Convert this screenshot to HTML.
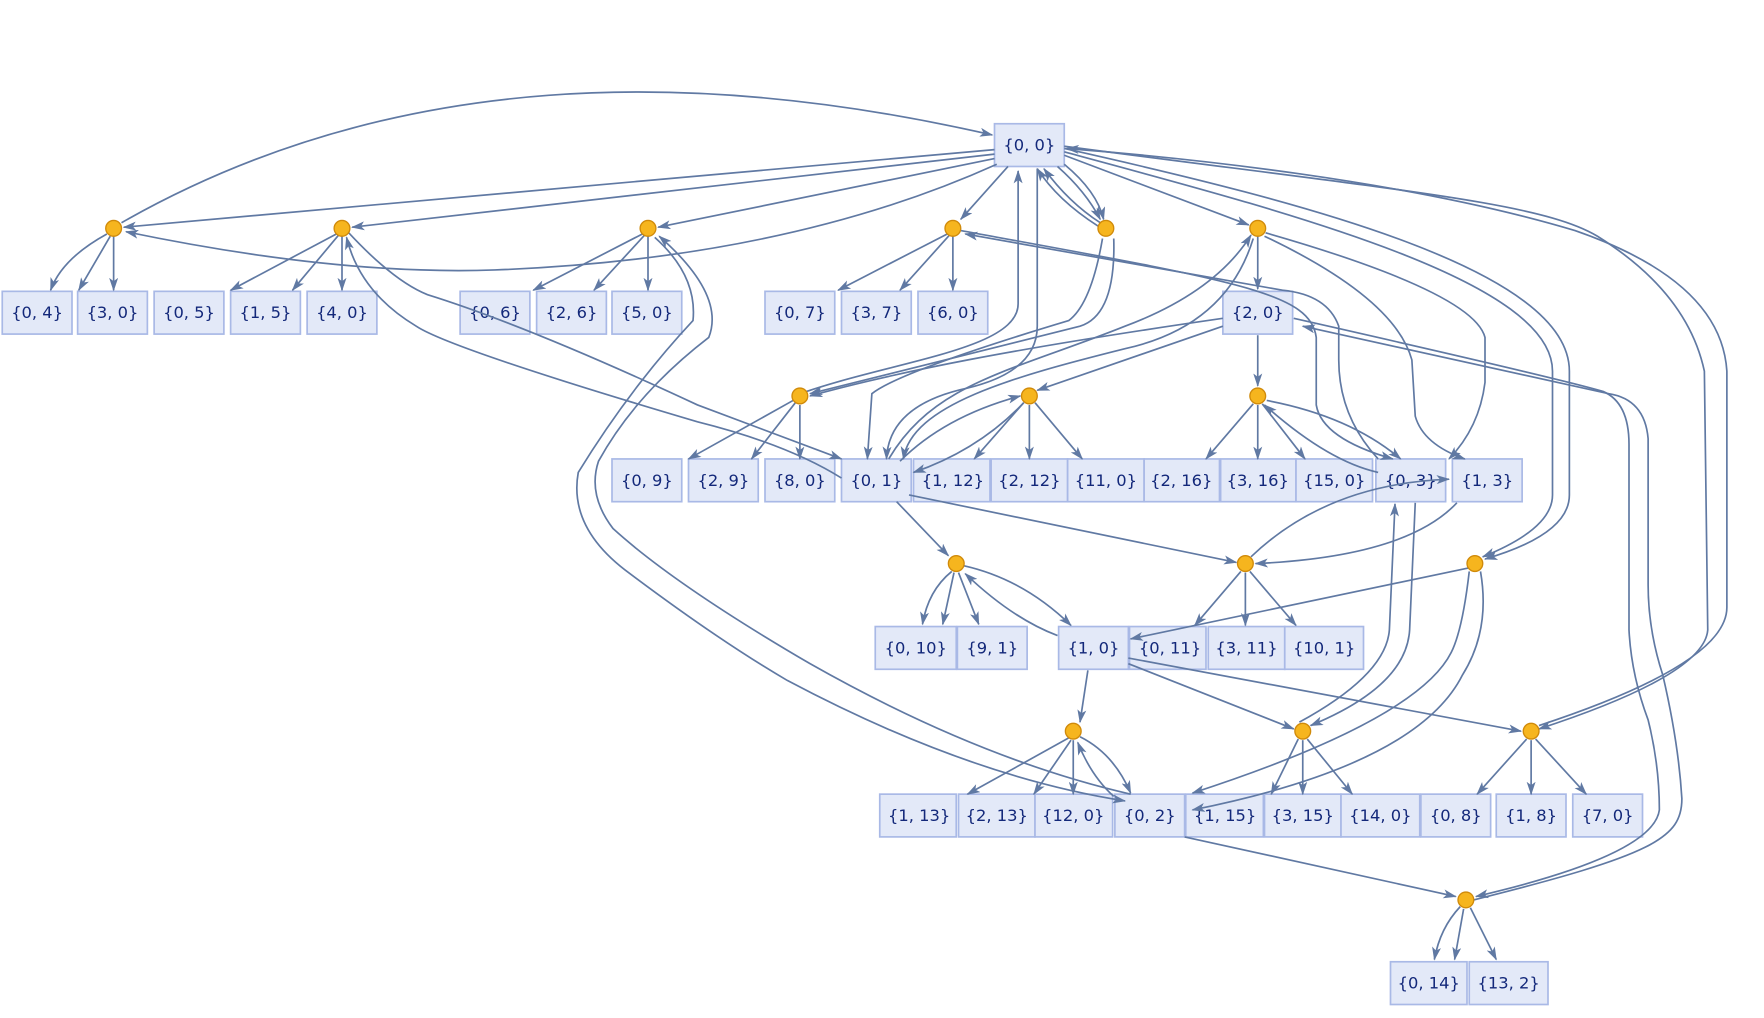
<!DOCTYPE html>
<html><head><meta charset="utf-8"><style>
html,body{margin:0;padding:0;background:#fff;}
svg{display:block;}
text{font-family:"DejaVu Sans","Liberation Sans",sans-serif;font-size:14.5px;fill:#13287a;text-anchor:middle;dominant-baseline:central;}
.e{fill:none;stroke:#6079a3;stroke-width:1.5;marker-end:url(#a);}
.b{fill:#e3e9f8;stroke:#a9b9e6;stroke-width:1.5;}
.d{fill:#f6b51e;stroke:#d08a0a;stroke-width:1.2;}
</style></head><body>
<svg width="1764" height="1018" viewBox="0 0 1568 905" preserveAspectRatio="none">
<defs><marker id="a" viewBox="0 0 12 8" refX="11" refY="4" markerWidth="12" markerHeight="8" markerUnits="userSpaceOnUse" orient="auto"><path d="M0,0 L12,4 L0,8 L3,4 z" fill="#6079a3"/></marker></defs>
<g id="boxes">
<rect class="b" x="884" y="110" width="62" height="38"/><text x="915" y="129">{0, 0}</text>
<rect class="b" x="2" y="259" width="62" height="38"/><text x="33" y="278">{0, 4}</text>
<rect class="b" x="69" y="259" width="62" height="38"/><text x="100" y="278">{3, 0}</text>
<rect class="b" x="137" y="259" width="62" height="38"/><text x="168" y="278">{0, 5}</text>
<rect class="b" x="205" y="259" width="62" height="38"/><text x="236" y="278">{1, 5}</text>
<rect class="b" x="273" y="259" width="62" height="38"/><text x="304" y="278">{4, 0}</text>
<rect class="b" x="409" y="259" width="62" height="38"/><text x="440" y="278">{0, 6}</text>
<rect class="b" x="477" y="259" width="62" height="38"/><text x="508" y="278">{2, 6}</text>
<rect class="b" x="544" y="259" width="62" height="38"/><text x="575" y="278">{5, 0}</text>
<rect class="b" x="680" y="259" width="62" height="38"/><text x="711" y="278">{0, 7}</text>
<rect class="b" x="748" y="259" width="62" height="38"/><text x="779" y="278">{3, 7}</text>
<rect class="b" x="816" y="259" width="62" height="38"/><text x="847" y="278">{6, 0}</text>
<rect class="b" x="1087" y="259" width="62" height="38"/><text x="1118" y="278">{2, 0}</text>
<rect class="b" x="544" y="408" width="62" height="38"/><text x="575" y="427">{0, 9}</text>
<rect class="b" x="612" y="408" width="62" height="38"/><text x="643" y="427">{2, 9}</text>
<rect class="b" x="680" y="408" width="62" height="38"/><text x="711" y="427">{8, 0}</text>
<rect class="b" x="748" y="408" width="62" height="38"/><text x="779" y="427">{0, 1}</text>
<rect class="b" x="812" y="408" width="68" height="38"/><text x="847" y="427">{1, 12}</text>
<rect class="b" x="881" y="408" width="68" height="38"/><text x="915" y="427">{2, 12}</text>
<rect class="b" x="949" y="408" width="68" height="38"/><text x="983" y="427">{11, 0}</text>
<rect class="b" x="1017" y="408" width="67" height="38"/><text x="1050" y="427">{2, 16}</text>
<rect class="b" x="1085" y="408" width="67" height="38"/><text x="1118" y="427">{3, 16}</text>
<rect class="b" x="1152" y="408" width="68" height="38"/><text x="1186" y="427">{15, 0}</text>
<rect class="b" x="1223" y="408" width="62" height="38"/><text x="1254" y="427">{0, 3}</text>
<rect class="b" x="1291" y="408" width="62" height="38"/><text x="1322" y="427">{1, 3}</text>
<rect class="b" x="778" y="557" width="72" height="38"/><text x="814" y="576">{0, 10}</text>
<rect class="b" x="851" y="557" width="62" height="38"/><text x="882" y="576">{9, 1}</text>
<rect class="b" x="941" y="557" width="62" height="38"/><text x="972" y="576">{1, 0}</text>
<rect class="b" x="1004" y="557" width="68" height="38"/><text x="1040" y="576">{0, 11}</text>
<rect class="b" x="1074" y="557" width="68" height="38"/><text x="1108" y="576">{3, 11}</text>
<rect class="b" x="1142" y="557" width="70" height="38"/><text x="1177" y="576">{10, 1}</text>
<rect class="b" x="782" y="706" width="68" height="38"/><text x="817" y="725">{1, 13}</text>
<rect class="b" x="852" y="706" width="68" height="38"/><text x="886" y="725">{2, 13}</text>
<rect class="b" x="920" y="706" width="69" height="38"/><text x="954" y="725">{12, 0}</text>
<rect class="b" x="991" y="706" width="62" height="38"/><text x="1022" y="725">{0, 2}</text>
<rect class="b" x="1054" y="706" width="69" height="38"/><text x="1089" y="725">{1, 15}</text>
<rect class="b" x="1124" y="706" width="68" height="38"/><text x="1158" y="725">{3, 15}</text>
<rect class="b" x="1192" y="706" width="70" height="38"/><text x="1227" y="725">{14, 0}</text>
<rect class="b" x="1263" y="706" width="62" height="38"/><text x="1294" y="725">{0, 8}</text>
<rect class="b" x="1330" y="706" width="62" height="38"/><text x="1361" y="725">{1, 8}</text>
<rect class="b" x="1398" y="706" width="62" height="38"/><text x="1429" y="725">{7, 0}</text>
<rect class="b" x="1236" y="855" width="68" height="38"/><text x="1270" y="874">{0, 14}</text>
<rect class="b" x="1306" y="855" width="70" height="38"/><text x="1341" y="874">{13, 2}</text>
</g>
<g>
<path class="e" d="M108,198 C350,60 620,60 882,120"/>
<path class="e" d="M884,133 L110,202"/>
<path class="e" d="M884,137 L313,202"/>
<path class="e" d="M884,141 L585,202"/>
<path class="e" d="M886,146 Q700,230 440,240 Q300,245 112,206"/>
<path class="e" d="M896,148 L854,195"/>
<path class="e" d="M940,148 Q965,170 978,195"/>
<path class="e" d="M946,146 Q975,170 981,195"/>
<path class="e" d="M978,198 Q950,180 928,150"/>
<path class="e" d="M976,201 Q940,178 922,150"/>
<path class="e" d="M946,138 L1110,200"/>
<path class="e" d="M946,135 C1150,190 1380,250 1380,330 L1380,440 Q1380,470 1318,495"/>
<path class="e" d="M946,132 C1160,180 1395,240 1395,330 L1395,440 Q1395,475 1320,497"/>
<path class="e" d="M946,130 C1250,170 1370,180 1420,210 Q1500,260 1515,330 L1518,560 Q1515,600 1368,648"/>
<path class="e" d="M1368,645 Q1535,590 1535,540 L1535,330 Q1530,250 1400,205 C1250,160 1050,140 948,132"/>
<path class="e" d="M1125,207 Q1310,260 1320,300 L1320,340 Q1315,380 1288,408"/>
<path class="e" d="M1124,210 Q1240,265 1255,320 L1258,370 Q1265,395 1302,408"/>
<path class="e" d="M854,205 C1100,250 1165,260 1170,300 L1170,360 Q1175,390 1238,408"/>
<path class="e" d="M1225,408 Q1190,370 1190,320 L1190,290 Q1180,262 1140,258 L858,208"/>
<path class="e" d="M1118,210 L1118,257"/>
<path class="e" d="M790,408 C830,340 900,330 1000,290 Q1080,260 1112,209"/>
<path class="e" d="M1114,212 Q1090,290 1000,310 C900,335 810,360 803,408"/>
<path class="e" d="M717,348 C800,320 905,310 905,270 L905,152"/>
<path class="e" d="M922,150 L922,290 Q922,330 860,345 Q790,360 788,408"/>
<path class="e" d="M980,212 Q970,270 950,285 Q800,330 775,350 L771,408"/>
<path class="e" d="M990,212 Q992,280 960,290 L720,350"/>
<path class="e" d="M1087,283 C900,310 800,330 720,352"/>
<path class="e" d="M1087,290 L922,347"/>
<path class="e" d="M800,410 Q840,370 907,352"/>
<path class="e" d="M910,358 Q870,400 812,420"/>
<path class="e" d="M910,358 L866,408"/>
<path class="e" d="M915,360 L915,408"/>
<path class="e" d="M920,358 L962,408"/>
<path class="e" d="M705,356 L612,408"/>
<path class="e" d="M707,358 L668,408"/>
<path class="e" d="M711,360 L711,408"/>
<path class="e" d="M310,207 Q350,250 380,262 Q470,290 620,360 Q700,390 748,408"/>
<path class="e" d="M748,425 Q700,395 620,375 Q400,310 370,290 Q320,260 308,211"/>
<path class="e" d="M582,211 Q620,245 616,285 Q560,345 514,420 Q505,470 560,510 Q640,570 700,605 Q860,690 1000,712"/>
<path class="e" d="M1005,706 Q870,675 720,590 Q600,520 545,470 Q522,440 532,410 Q565,350 630,300 Q645,262 586,210"/>
<path class="e" d="M960,655 Q990,670 1005,705"/>
<path class="e" d="M990,708 Q970,690 958,660"/>
<path class="e" d="M950,656 L860,706"/>
<path class="e" d="M952,658 L919,706"/>
<path class="e" d="M954,658 L954,706"/>
<path class="e" d="M967,596 L960,642"/>
<path class="e" d="M846,508 Q825,525 820,555"/>
<path class="e" d="M848,509 L838,555"/>
<path class="e" d="M852,509 L870,555"/>
<path class="e" d="M857,503 Q910,515 952,556"/>
<path class="e" d="M940,565 Q900,550 858,510"/>
<path class="e" d="M797,446 L843,494"/>
<path class="e" d="M808,440 L1099,500"/>
<path class="e" d="M1295,447 Q1250,495 1116,501"/>
<path class="e" d="M1112,495 Q1180,430 1288,426"/>
<path class="e" d="M1103,508 L1062,556"/>
<path class="e" d="M1107,509 L1107,556"/>
<path class="e" d="M1111,508 L1152,556"/>
<path class="e" d="M1305,505 L1005,568"/>
<path class="e" d="M1306,508 Q1300,560 1290,580 Q1260,640 1060,705"/>
<path class="e" d="M1316,508 Q1325,560 1300,600 Q1260,680 1060,720"/>
<path class="e" d="M1003,590 L1150,648"/>
<path class="e" d="M1003,585 L1352,650"/>
<path class="e" d="M1155,642 Q1232,600 1235,560 L1240,448"/>
<path class="e" d="M1258,447 L1253,560 Q1250,610 1165,645"/>
<path class="e" d="M1154,657 L1130,706"/>
<path class="e" d="M1158,658 L1158,706"/>
<path class="e" d="M1162,657 L1202,706"/>
<path class="e" d="M1357,657 L1313,706"/>
<path class="e" d="M1361,658 L1361,706"/>
<path class="e" d="M1365,657 L1410,706"/>
<path class="e" d="M1053,744 L1294,797"/>
<path class="e" d="M1150,283 Q1380,335 1425,348 Q1448,358 1448,395 L1448,560 Q1450,600 1465,640 Q1475,680 1475,720 Q1470,760 1312,797"/>
<path class="e" d="M1310,800 C1470,760 1495,745 1495,710 Q1492,660 1478,600 Q1465,560 1465,520 L1465,390 Q1462,355 1430,350 L1158,290"/>
<path class="e" d="M1298,806 Q1280,825 1275,853"/>
<path class="e" d="M1301,808 L1293,853"/>
<path class="e" d="M1307,807 L1330,853"/>
<path class="e" d="M1118,298 L1118,343"/>
<path class="e" d="M1114,359 L1072,408"/>
<path class="e" d="M1118,360 L1118,408"/>
<path class="e" d="M1122,359 L1160,408"/>
<path class="e" d="M1126,356 Q1200,370 1245,408"/>
<path class="e" d="M1225,420 Q1180,410 1124,360"/>
<path class="e" d="M95,208 Q55,230 45,258"/>
<path class="e" d="M98,210 L70,258"/>
<path class="e" d="M101,210 L101,258"/>
<path class="e" d="M299,208 L205,258"/>
<path class="e" d="M301,209 L260,258"/>
<path class="e" d="M304,210 L304,258"/>
<path class="e" d="M571,208 L474,258"/>
<path class="e" d="M573,209 L528,258"/>
<path class="e" d="M576,210 L576,258"/>
<path class="e" d="M842,208 L745,258"/>
<path class="e" d="M844,209 L800,258"/>
<path class="e" d="M847,210 L847,258"/>
</g>
<g>
<circle class="d" cx="101" cy="203" r="7"/><circle class="d" cx="304" cy="203" r="7"/><circle class="d" cx="576" cy="203" r="7"/>
<circle class="d" cx="847" cy="203" r="7"/><circle class="d" cx="983" cy="203" r="7"/><circle class="d" cx="1118" cy="203" r="7"/>
<circle class="d" cx="711" cy="352" r="7"/><circle class="d" cx="915" cy="352" r="7"/><circle class="d" cx="1118" cy="352" r="7"/>
<circle class="d" cx="850" cy="501" r="7"/><circle class="d" cx="1107" cy="501" r="7"/><circle class="d" cx="1311" cy="501" r="7"/>
<circle class="d" cx="954" cy="650" r="7"/><circle class="d" cx="1158" cy="650" r="7"/><circle class="d" cx="1361" cy="650" r="7"/>
<circle class="d" cx="1303" cy="800" r="7"/>
</g>
</svg>
</body></html>
